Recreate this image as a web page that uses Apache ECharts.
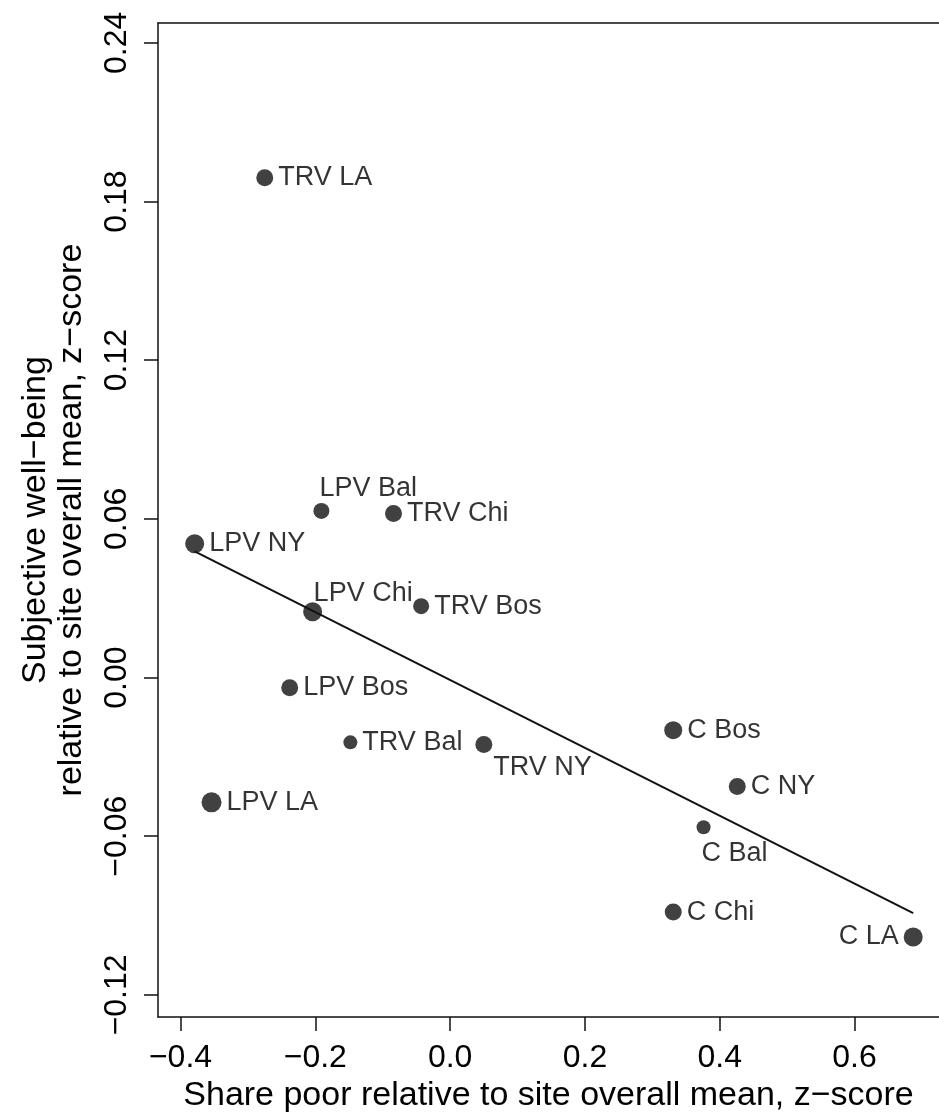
<!DOCTYPE html>
<html>
<head>
<meta charset="utf-8">
<script src="https://cdn.jsdelivr.net/npm/echarts@6/dist/echarts.min.js"></script>
<style>
html,body{margin:0;padding:0;background:#fff;}
#chart{width:939px;height:1118px;}
</style>
</head>
<body>
<div id="chart"></div>
<script>
// ---- data ----
const siteNames = ['TRV LA','LPV Bal','TRV Chi','LPV NY','LPV Chi','TRV Bos','LPV Bos','TRV Bal','TRV NY','LPV LA','C Bos','C NY','C Bal','C Chi','C LA'];
const sharePoor = [-0.275,-0.191,-0.084,-0.379,-0.204,-0.043,-0.238,-0.148,0.050,-0.354,0.331,0.426,0.376,0.331,0.687];
const wellBeing = [0.189,0.063,0.062,0.0506,0.0249,0.027,-0.0039,-0.0245,-0.0253,-0.0472,-0.0199,-0.0412,-0.0566,-0.0887,-0.0981];
const fitX = [-0.379, 0.687];
const fitY = [0.0477, -0.0891];
const xTicks = [-0.4,-0.2,0.0,0.2,0.4,0.6];
const yTicks = [-0.12,-0.06,0.00,0.06,0.12,0.18,0.24];
const xTitle = 'Share poor relative to site overall mean, z\u2212score';
const yTitle = 'Subjective well\u2212being\nrelative to site overall mean, z\u2212score';

// ---- presentation (sizes / label placement) ----
const dotDiameter = [17,16,17,19,19,16,17,14,17,20,18,17,14,17,19];
const labelPlacement = ['right','topLeftAlign','right','right','topLeftAlignLow','right','right','right','belowRight','right','right','right','bottomLeftAlign','right','left'];

const FONT = 'Liberation Sans, Arial, Helvetica, sans-serif';
const INK = '#111';
const TXT = '#000';
const fmt = (v, d) => { const s = Math.abs(v).toFixed(d); return (v < -1e-9 ? '\u2212' : '') + s; };

function labelFor(p){
  const base = {show:true, formatter:'{b}', fontFamily:FONT, fontSize:27, color:TXT, distance:5};
  if (p === 'right') return Object.assign(base,{position:'right'});
  if (p === 'left') return Object.assign(base,{position:'left'});
  if (p === 'topLeftAlign') return Object.assign(base,{position:'top', align:'left', offset:[-2,4]});
  if (p === 'topLeftAlignLow') return Object.assign(base,{position:'top', align:'left', offset:[1,10]});
  if (p === 'bottomLeftAlign') return Object.assign(base,{position:'bottom', align:'left', offset:[-2,1]});
  if (p === 'belowRight') return Object.assign(base,{position:'right', offset:[-4,23]});
  return base;
}

const scatterData = siteNames.map((n,i)=>({
  name:n,
  value:[sharePoor[i], wellBeing[i]],
  symbolSize: dotDiameter[i],
  label: labelFor(labelPlacement[i])
}));

const X_MIN = -0.4334, X_MAX = 0.7253, Y_MIN = -0.1284, Y_MAX = 0.2475;

const chart = echarts.init(document.getElementById('chart'), null, {renderer:'canvas'});
chart.setOption({
  animation:false,
  backgroundColor:'#fff',
  grid:{left:158, top:23, right:0, bottom:94, show:false},
  xAxis:[{
    type:'value', min:X_MIN, max:X_MAX, position:'bottom',
    axisLine:{show:true, onZero:false, lineStyle:{color:INK, width:1.5}},
    axisTick:{show:true, customValues:xTicks, length:14, lineStyle:{color:INK, width:1.5}},
    axisLabel:{customValues:xTicks, formatter:v=>fmt(v,1), fontFamily:FONT, fontSize:32, color:TXT, margin:25},
    splitLine:{show:false},
    name:xTitle, nameLocation:'middle', nameGap:50,
    nameTextStyle:{fontFamily:FONT, fontSize:34, color:TXT}
  },{
    type:'value', min:X_MIN, max:X_MAX, position:'top',
    axisLine:{show:true, onZero:false, lineStyle:{color:INK, width:1.5}},
    axisTick:{show:false}, axisLabel:{show:false}, splitLine:{show:false}
  }],
  yAxis:{
    type:'value', min:Y_MIN, max:Y_MAX,
    axisLine:{show:true, onZero:false, lineStyle:{color:INK, width:1.5}},
    axisTick:{show:true, customValues:yTicks, length:14, lineStyle:{color:INK, width:1.5}},
    axisLabel:{customValues:yTicks, formatter:v=>fmt(v,2), rotate:90, fontFamily:FONT, fontSize:32, color:TXT, margin:25},
    splitLine:{show:false},
    name:yTitle, nameLocation:'middle', nameGap:68, nameRotate:90,
    nameTextStyle:{fontFamily:FONT, fontSize:34, color:TXT, lineHeight:36, align:'center'}
  },
  series:[
    {
      type:'line',
      data:fitX.map((x,i)=>[x, fitY[i]]),
      symbol:'none', silent:true,
      lineStyle:{color:INK, width:2},
      z:1
    },
    {
      type:'scatter',
      data:scatterData,
      itemStyle:{color:INK},
      z:2
    }
  ]
});
</script>
</body>
</html>
